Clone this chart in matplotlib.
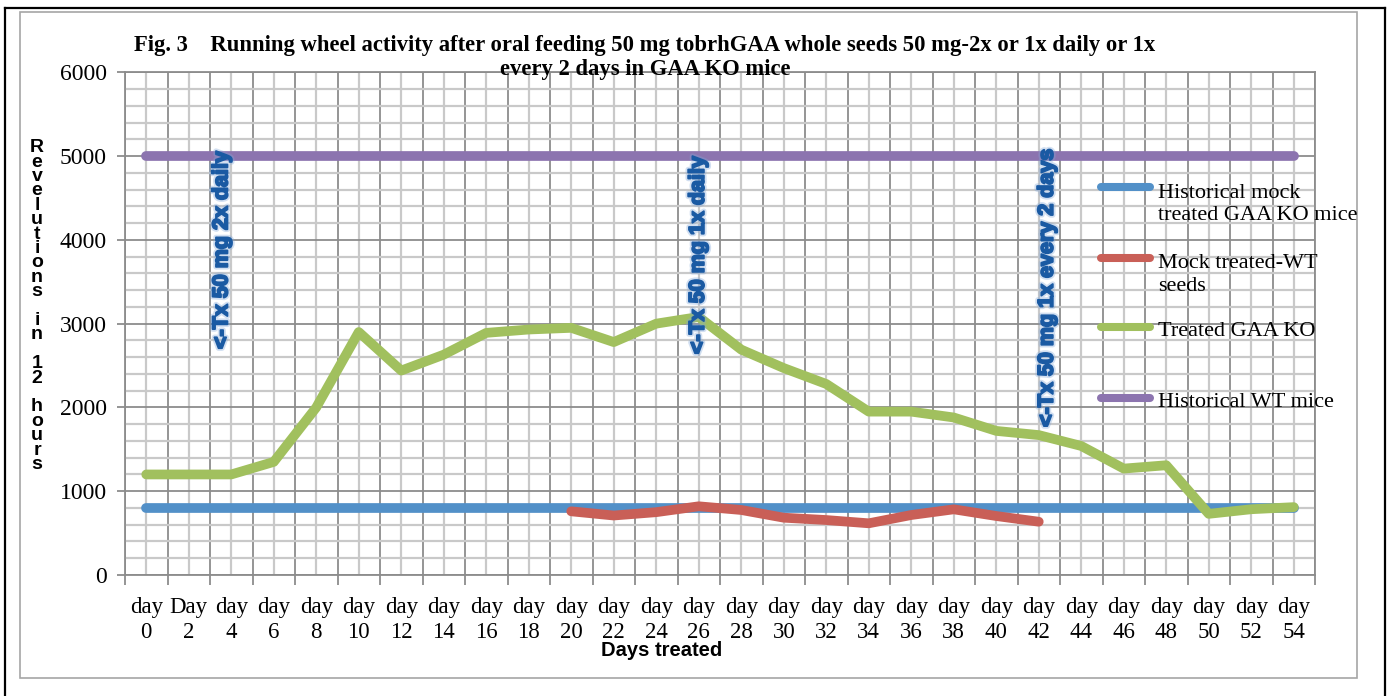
import numpy as np
import matplotlib
matplotlib.use("Agg")
import matplotlib.pyplot as plt
import matplotlib.patheffects as pe
from matplotlib.lines import Line2D
from matplotlib.patches import Rectangle

# ---- data -------------------------------------------------------------
day_labels = ["day\n0", "Day\n2", "day\n4", "day\n6", "day\n8", "day\n10",
              "day\n12", "day\n14", "day\n16", "day\n18", "day\n20", "day\n22",
              "day\n24", "day\n26", "day\n28", "day\n30", "day\n32", "day\n34",
              "day\n36", "day\n38", "day\n40", "day\n42", "day\n44", "day\n46",
              "day\n48", "day\n50", "day\n52", "day\n54"]

hist_mock_ko = [800] * 28
mock_wt_seeds = [np.nan] * 10 + [760, 710, 750, 820, 776, 684, 656, 617,
                                 716, 784, 704, 636] + [np.nan] * 6
treated_ko = [1200, 1200, 1200, 1350, 2000, 2900, 2440, 2630, 2890, 2930,
              2950, 2780, 3000, 3080, 2690, 2470, 2280, 1950, 1950, 1880,
              1720, 1670, 1540, 1270, 1310, 730, 785, 810]
hist_wt = [5000] * 28

series_names = ["Historical mock\ntreated GAA KO mice",
                "Mock treated-WT\nseeds",
                "Treated GAA KO",
                "Historical WT mice"]
series_colors = ["#5290C8", "#C95F57", "#A1C05E", "#8C74AF"]

annotations = [("<-Tx 50 mg 2x daily", 1.78, 3880),
               ("<-Tx 50 mg 1x daily", 12.99, 3820),
               ("<-Tx 50 mg 1x every 2 days", 21.2, 3430)]

title = ("Fig. 3    Running wheel activity after oral feeding 50 mg tobrhGAA "
         "whole seeds 50 mg-2x or 1x daily or 1x\nevery 2 days in GAA KO mice")

# ---- figure -----------------------------------------------------------
W, H = 1390, 696
fig = plt.figure(figsize=(W / 100, H / 100), dpi=100)


def fx(px):
    return px / W


def fy(py):
    return 1 - py / H


SERIF = "Liberation Serif"
SANS = "Liberation Sans"
MAJOR_C = "#8c8c8c"
MINOR_C = "#c9c9c9"
NOTE_C = "#1A5AA3"

# frame around the whole chart
fig.add_artist(Line2D([fx(5), fx(5)], [fy(8), 0], color="black", lw=1.6))
fig.add_artist(Line2D([fx(5), fx(1385)], [fy(8), fy(8)], color="black", lw=1.6))
fig.add_artist(Line2D([fx(1385), fx(1385)], [fy(8), 0], color="black", lw=1.6))
fig.add_artist(Rectangle((fx(20), fy(677.7)), fx(1356.5) - fx(20),
                         fy(11.7) - fy(677.7), fill=False,
                         edgecolor="#a6a6a6", lw=1.2))

ax = fig.add_axes([fx(125), fy(575), fx(1315) - fx(125), fy(72.3) - fy(575)])

x = np.arange(len(day_labels))
ax.set_xlim(-0.5, len(day_labels) - 0.5)
ax.set_ylim(0, 6000)

# category boundaries carry tick marks and dark grid, centres carry labels
ax.set_xticks(np.arange(-0.5, len(day_labels), 1.0))
ax.set_xticklabels([])
ax.set_xticks(x, labels=day_labels, minor=True)
ax.set_yticks(np.arange(0, 6001, 1000))
ax.set_yticks(np.arange(0, 6001, 200), minor=True)

ax.tick_params(axis="x", which="major", length=7, width=1.3, color=MAJOR_C)
ax.tick_params(axis="x", which="minor", length=0, pad=15.5,
               labelsize=16.5)
ax.tick_params(axis="y", which="major", length=6, width=1.3, color=MAJOR_C,
               pad=7, labelsize=17)
ax.tick_params(axis="y", which="minor", length=0)
for lab in ax.get_xticklabels(minor=True) + ax.get_yticklabels():
    lab.set_family(SERIF)
for lab in ax.get_xticklabels(minor=True):
    lab.set_linespacing(1.3)

ax.grid(which="minor", color=MINOR_C, lw=1.6)
ax.grid(which="major", color=MAJOR_C, lw=1.3)
ax.set_axisbelow(True)
for sp in ax.spines.values():
    sp.set_color(MAJOR_C)
    sp.set_linewidth(1.3)

# series
all_series = [hist_mock_ko, mock_wt_seeds, treated_ko, hist_wt]
draw_order = [0, 2, 3, 1]
for i in draw_order:
    ax.plot(x, all_series[i], color=series_colors[i], lw=7.0,
            solid_capstyle="round", solid_joinstyle="round",
            zorder=3 + (1 if i == 1 else 0), clip_on=False)

# treatment annotations: heavy blue lettering with a soft halo
note_fx = [pe.withStroke(linewidth=4.0, foreground="#7fa6d8", alpha=0.35),
           pe.withStroke(linewidth=1.4, foreground=NOTE_C)]
for txt, xa, ya in annotations:
    ax.text(xa, ya, txt, rotation=90, ha="center", va="center",
            fontsize=15.5, weight="bold", family=SANS,
            color=NOTE_C, zorder=6, path_effects=note_fx)

# legend
leg_y = [187.3, 257.7, 327.3, 397.7]
leg_pitch = 24
for name, col, yy in zip(series_names, series_colors, leg_y):
    fig.add_artist(Line2D([fx(1101), fx(1150)], [fy(yy), fy(yy)], color=col,
                          lw=5.8, solid_capstyle="round"))
    n_extra = name.count("\n")
    fig.text(fx(1158), fy(yy + 9 + n_extra * leg_pitch), name, ha="left",
             va="baseline", fontsize=16, family=SERIF, color="black",
             linespacing=1.26)

# titles
fig.text(fx(645), fy(35), title, ha="center", va="top", fontsize=16.3,
         weight="bold", family=SERIF, linespacing=1.2)
fig.text(fx(662), fy(651), "Days treated", ha="center", va="center",
         fontsize=14.5, weight="bold", family=SANS)
fig.text(fx(37), fy(306), "\n".join("Revelutions in 12 hours"),
         ha="center", va="center", fontsize=14, weight="bold", family=SANS,
         linespacing=0.8)

fig.savefig("out.png", dpi=100, facecolor="white")
